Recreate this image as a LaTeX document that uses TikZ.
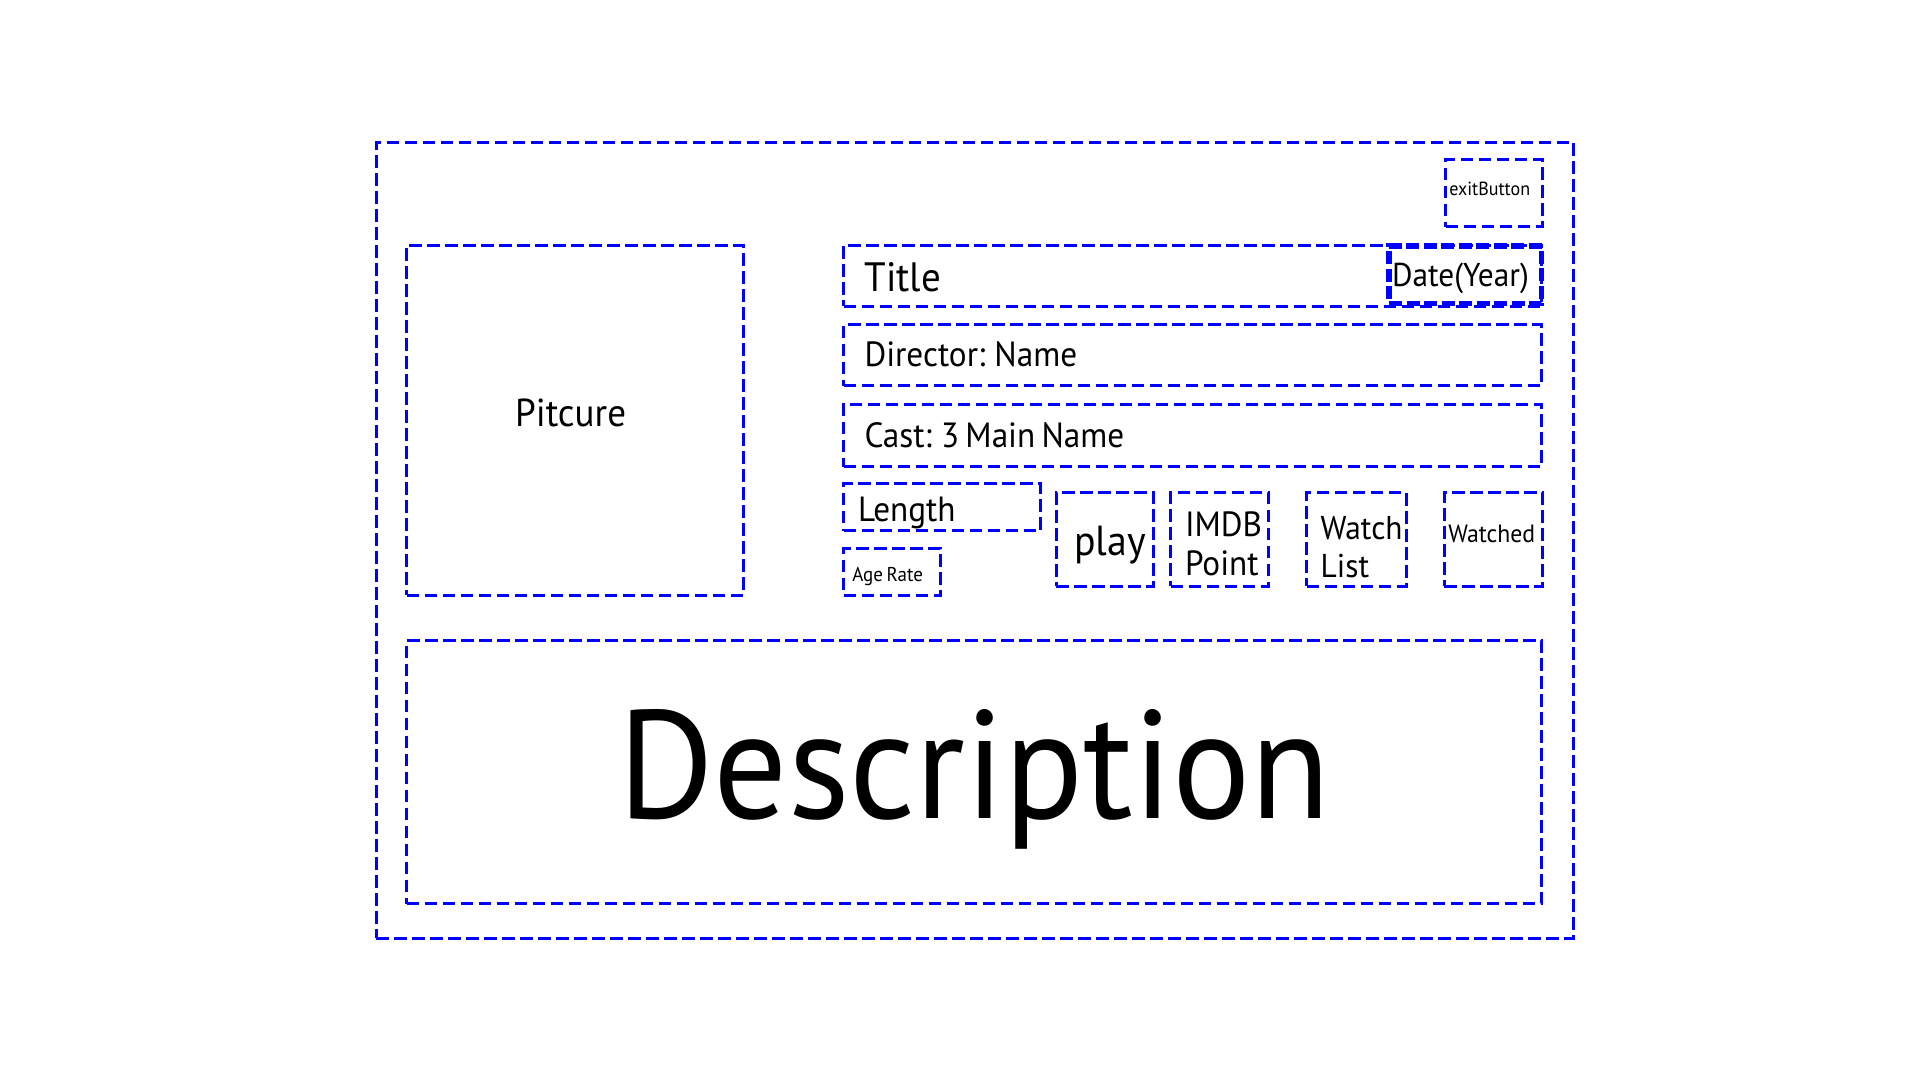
\documentclass[tikz,border=0pt]{standalone}
\usepackage{fontspec}
\setmainfont{PT Sans}[FakeStretch=0.95, WordSpace=0.7]
\usetikzlibrary{fit}
\definecolor{dashblue}{RGB}{0,0,255}
\tikzset{
  box/.style={draw=dashblue, line width=3pt, dash pattern=on 12.5pt off 5.5pt, inner sep=0pt, outer sep=0pt},
  boldbox/.style={draw=dashblue, line width=5.5pt, dash pattern=on 13pt off 4.5pt, inner sep=0pt, outer sep=0pt},
  lbl/.style={inner sep=0pt, outer sep=0pt, anchor=base west, text=black},
}
\newcommand{\fsz}[1]{\fontsize{#1}{#1}\selectfont}
\begin{document}
\begin{tikzpicture}[x=1pt,y=-1pt]
\useasboundingbox[fill=white] (0,0) rectangle (1920,1080);
% boxes
\node[box, fit={(376,142) (1573.5,938)}] (outer) {};
\node[box, fit={(1445.5,159) (1542.5,226.5)}] (exitB) {};
\node[box, fit={(406.5,245) (743,595)}] (pic) {};
\node[box, fit={(843.5,245) (1541.5,306)}] (title) {};
\node[boldbox, fit={(1389,246) (1541.5,303.5)}] (date) {};
\node[box, fit={(843.5,324.5) (1541.5,385.5)}] (dir) {};
\node[box, fit={(843.5,404) (1541.5,466.5)}] (cast) {};
\node[box, fit={(843.5,483.5) (1040.5,530.5)}] (len) {};
\node[box, fit={(843.5,548.5) (940.5,595.5)}] (age) {};
\node[box, fit={(1056,492.5) (1153.5,586)}] (play) {};
\node[box, fit={(1170.5,492.5) (1268.5,586)}] (imdb) {};
\node[box, fit={(1306.5,492.5) (1406,586)}] (watch) {};
\node[box, fit={(1444,492.5) (1542.5,586)}] (watched) {};
\node[box, fit={(406.5,640.5) (1541.5,903.5)}] (desc) {};
% labels
\node[lbl, font=\fsz{19}] (exitT) at (1449.3,195.3) {exitButton};
\node[lbl, font=\fsz{39}, anchor=base] (picT) at (570.6,426) {Pitcure};
\node[lbl, font=\fsz{41}] (titleT) at (864.5,291) {Title};
\node[lbl, font=\fsz{33}] (dateT) at (1392,286) {Date(Year)};
\node[lbl, font=\fsz{35}] (dirT) at (864.5,366) {Director: Name};
\node[lbl, font=\fsz{35}] (castT) at (864.5,447) {Cast: 3 Main Name};
\node[lbl, font=\fsz{35}] (lenT) at (858,521.7) {Length};
\node[lbl, font=\fsz{20}] (ageT) at (852.3,581) {Age Rate};
\node[lbl, font=\fsz{42}] (playT) at (1074,555) {play};
\node[lbl, font=\fsz{35}] (imdbT) at (1185,536) {IMDB};
\node[lbl, font=\fsz{35}] (pointT) at (1185,575.5) {Point};
\node[lbl, font=\fsz{33}] (watchT) at (1320.7,539) {Watch};
\node[lbl, font=\fsz{33}] (listT) at (1320.7,577.3) {List};
\node[lbl, font=\fsz{25}] (watchedT) at (1448.3,542.3) {Watched};
\node[lbl, font=\fsz{154}] (descT) at (618,818) {Description};
\end{tikzpicture}
\end{document}
